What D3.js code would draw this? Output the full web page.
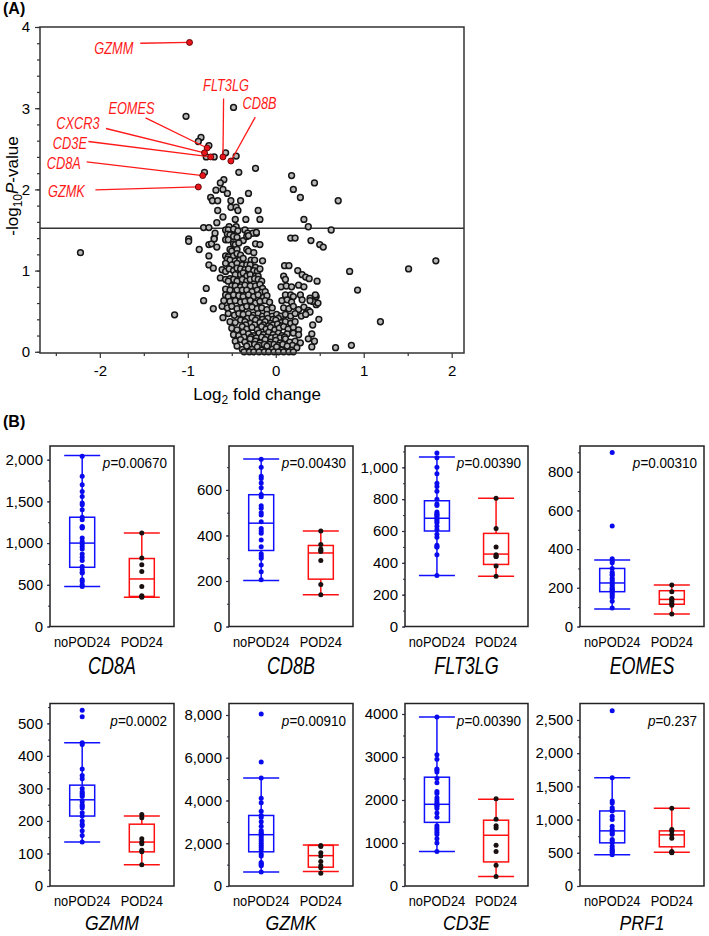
<!DOCTYPE html>
<html><head><meta charset="utf-8">
<script src="https://cdn.jsdelivr.net/npm/d3@7"></script>
<style>
body{margin:0;background:#fff}
svg{display:block}
text{font-family:"Liberation Sans",Arial,sans-serif}
</style></head>
<body><svg id="chart" width="709" height="936"></svg>
<script>
// ---------------- Volcano data (Log2 fold change, -log10 P) ----------------
const volcanoPoints = [
 [-1.02,2.90],[-0.48,3.01],[-0.85,2.64],[-0.88,2.59],[-0.76,2.54],[-0.79,2.40],[-0.70,2.40],[-0.57,2.45],[-0.45,2.41],
 [-0.81,2.21],[-0.42,2.21],[-0.23,2.26],[0.18,2.17],[0.44,2.08],[0.20,2.00],[0.28,1.90],[0.71,1.86],[-0.59,2.12],
 [-0.63,2.08],[-0.68,1.99],[-0.60,2.00],[-0.55,1.95],[-0.31,1.95],[-0.74,1.90],[-0.72,1.86],[-0.66,1.86],[-0.51,1.86],
 [-0.40,1.86],[-0.66,1.74],[-0.51,1.78],[-0.45,1.78],[-0.43,1.74],[-0.20,1.74],[-0.60,1.66],[-0.67,1.59],[-0.46,1.63],
 [-0.34,1.63],[-0.18,1.63],[0.32,1.63],[0.37,1.54],[0.63,1.50],[-0.82,1.53],[-0.76,1.53],[-0.53,1.54],[-0.45,1.54],
 [-0.55,1.48],[-0.50,1.49],
 [-2.22,1.22],[-0.99,1.39],[-0.99,1.36],[-0.70,1.40],[-0.22,1.46],[-0.87,1.26],[-0.76,1.32],[-0.76,1.18],[-0.76,1.07],
 [-0.71,1.03],[-0.79,0.78],[-0.82,0.63],[-0.71,0.53],[-0.60,0.42],[-1.15,0.455],[1.82,1.12],[1.51,1.02],[0.84,0.99],
 [0.93,0.76],[1.19,0.37],[0.86,0.08],[0.68,0.05],[0.44,0.13],[0.41,0.06],[0.49,0.40],[0.42,0.33],[0.41,0.22],[0.50,1.32],
 [0.54,1.29],[0.40,1.37],[0.17,1.40],[0.22,1.40],[0.10,1.06],[0.15,1.06],[0.25,1.00],[0.30,0.95],[0.34,0.92],[0.38,0.90],
 [0.47,0.87],[0.46,0.68],[0.46,0.58],[0.42,0.62],
 [-0.57,1.50],[-0.54,1.50],[-0.48,1.51],[-0.43,1.49],[-0.35,1.50],[-0.32,1.46],[-0.26,1.46],[-0.22,1.47],
 [-0.69,1.46],[-0.55,1.45],[-0.52,1.44],[-0.48,1.42],
 [-0.57,1.38],[-0.54,1.38],[-0.44,1.41],[-0.37,1.37],[-0.33,1.42],[-0.31,1.43],[-0.23,1.33],[-0.18,1.32],
 [-0.73,1.33],[-0.67,1.29],[-0.70,1.39],[-0.48,1.33],[-0.46,1.32],[-0.42,1.34],
 [-0.52,1.26],[-0.50,1.24],[-0.44,1.26],[-0.33,1.26],[-0.31,1.24],[-0.25,1.22],
 [-0.57,1.18],[-0.54,1.17],[-0.48,1.18],[-0.44,1.21],[-0.40,1.19],
 [-0.55,1.14],[-0.52,1.13],[-0.46,1.12],[-0.41,1.13],[-0.37,1.15],[-0.28,1.13],[-0.24,1.13],[-0.15,1.12],
 [-0.57,1.09],[-0.50,1.07],[-0.44,1.09],[-0.38,1.07],[-0.33,1.07],[-0.29,1.07],[-0.23,1.04],
 [-0.61,1.01],[-0.57,0.99],[-0.53,1.02],[-0.48,1.00],[-0.44,1.03],[-0.40,1.02],[-0.35,1.01],[-0.31,1.02],[-0.25,1.00],[-0.21,0.99],[-0.18,1.02],
 [-0.46,0.95],[-0.40,0.95],[-0.37,0.97],[-0.33,0.93],[-0.29,0.95],[-0.23,0.93],[-0.20,0.93],[0.09,0.93],
 [-0.63,0.91],[-0.57,0.89],[-0.52,0.90],[-0.48,0.89],
 [-0.54,0.87],[-0.44,0.87],[-0.38,0.89],[-0.33,0.87],[-0.29,0.89],[-0.24,0.90],[-0.20,0.89],[-0.16,0.87],
 [-0.50,0.81],[-0.46,0.81],[-0.40,0.80],[-0.35,0.82],[-0.29,0.81],[-0.23,0.81],[-0.18,0.83],[-0.15,0.78],
 [0.11,0.89],[0.06,0.80],[0.12,0.81],[0.18,0.80],[0.26,0.82],[0.32,0.80],
 [-0.57,0.77],[-0.52,0.76],[-0.44,0.76],[-0.38,0.76],[-0.33,0.76],[-0.27,0.74],[-0.21,0.76],[-0.16,0.73],[-0.12,0.74],
 [-0.57,0.70],[-0.54,0.68],[-0.48,0.70],[-0.42,0.69],[-0.37,0.68],[-0.31,0.70],[-0.25,0.68],[-0.20,0.70],[-0.14,0.67],[-0.10,0.69],
 [0.11,0.70],[0.17,0.70],[0.20,0.68],[0.28,0.70],[0.39,0.66],[0.45,0.70],
 [-0.59,0.63],[-0.52,0.62],[-0.46,0.63],[-0.40,0.61],[-0.35,0.62],[-0.29,0.63],[-0.23,0.60],[-0.18,0.62],[-0.12,0.63],[-0.07,0.61],
 [0.07,0.63],[0.13,0.64],[0.18,0.61],[0.30,0.64],[0.39,0.63],[0.48,0.60],
 [-0.61,0.56],[-0.55,0.54],[-0.50,0.56],[-0.44,0.53],[-0.38,0.54],[-0.33,0.56],[-0.27,0.55],[-0.21,0.53],[-0.16,0.54],[-0.10,0.52],[-0.04,0.54],
 [0.09,0.54],[0.15,0.53],[0.20,0.56],[0.26,0.52],[0.32,0.55],[0.37,0.51],[0.35,0.48],[0.39,0.49],
 [-0.54,0.47],[-0.47,0.45],[-0.42,0.47],[-0.37,0.46],[-0.31,0.47],[-0.25,0.45],[-0.20,0.47],[-0.15,0.44],[-0.10,0.46],[-0.04,0.44],
 [0.01,0.46],[0.06,0.44],[0.11,0.46],[0.17,0.44],[0.22,0.47],[0.29,0.44],[0.34,0.46],
 [-0.32,0.41],[-0.27,0.42],[-0.21,0.41],[-0.15,0.40],[-0.09,0.41],[-0.03,0.40],[0.03,0.41],
 [-0.52,0.37],[-0.46,0.36],[-0.40,0.39],[-0.35,0.37],[-0.29,0.35],[-0.23,0.39],[-0.18,0.36],[-0.12,0.37],[-0.06,0.35],[0.00,0.39],
 [0.06,0.36],[0.11,0.37],[0.17,0.35],[0.22,0.37],
 [-0.34,0.33],[-0.24,0.33],[-0.14,0.33],[-0.08,0.32],[-0.03,0.33],[0.02,0.34],[0.07,0.32],
 [-0.50,0.29],[-0.44,0.27],[-0.38,0.31],[-0.33,0.28],[-0.27,0.30],[-0.21,0.27],[-0.16,0.31],[-0.11,0.28],[-0.06,0.30],[-0.01,0.27],
 [0.04,0.29],[0.09,0.31],[0.14,0.28],[0.20,0.30],[0.26,0.27],
 [-0.48,0.21],[-0.42,0.20],[-0.37,0.24],[-0.31,0.22],[-0.25,0.20],[-0.19,0.23],[-0.14,0.21],[-0.08,0.24],[-0.03,0.21],[0.03,0.23],
 [0.07,0.20],[0.13,0.22],[0.20,0.23],[0.26,0.21],
 [-0.36,0.18],[-0.28,0.18],[-0.22,0.17],[-0.16,0.18],[-0.10,0.18],[-0.05,0.17],[0.00,0.18],[0.05,0.17],[0.10,0.18],
 [-0.46,0.13],[-0.40,0.15],[-0.35,0.12],[-0.29,0.16],[-0.23,0.13],[-0.18,0.11],[-0.12,0.15],[-0.06,0.12],[0.00,0.14],[0.05,0.11],
 [0.11,0.16],[0.16,0.12],[0.22,0.13],[0.28,0.11],
 [-0.30,0.09],[-0.24,0.09],[-0.19,0.08],[-0.13,0.09],[-0.07,0.09],[-0.02,0.09],[0.03,0.08],[0.08,0.09],[0.19,0.08],
 [-0.44,0.07],[-0.38,0.03],[-0.33,0.07],[-0.27,0.03],[-0.21,0.06],[-0.16,0.02],[-0.10,0.07],[-0.04,0.03],[0.01,0.06],[0.07,0.02],
 [0.13,0.07],[0.18,0.02],[0.24,0.05],
 [-0.36,0.00],[-0.30,0.00],[-0.25,0.00],[-0.19,0.00],[-0.13,0.00],[-0.08,0.00],[-0.02,0.00],[0.03,0.00],[0.09,0.00],[0.15,0.00],[0.20,0.00],
 [0.37,0.16]
];
const highlightGenes = ["GZMM","FLT3LG","CD8B","EOMES","CXCR3","CD3E","CD8A","GZMK"];
const highlightFC    = [-0.98,-0.60,-0.51,-0.78,-0.81,-0.74,-0.83,-0.88];
const highlightP     = [3.81, 2.40, 2.35, 2.51, 2.45, 2.40, 2.17, 2.03];
// label text centre and leader-line start, in data units
const labelFC   = [-1.84,-0.565,-0.185,-1.64,-2.25,-2.34,-2.41,-2.38];
const labelP    = [3.74, 3.28, 3.06, 3.00, 2.81, 2.57, 2.32, 1.98];
const leaderFC  = [-1.54,-0.593,-0.233,-1.48,-1.93,-2.13,-2.15,-2.05];
const leaderP   = [3.80, 3.12, 2.89, 2.88, 2.75, 2.59, 2.34, 1.995];
const pThreshold = 1.52;
const volcanoXTicks = [-2,-1,0,1,2];
const volcanoXMinor = [-2.5,-1.5,-0.5,0.5,1.5];
const volcanoYTicks = [0,1,2,3,4];

// ---------------- Box plot data ----------------
const groups = ["noPOD24","POD24"];
const genes  = ["CD8A","CD8B","FLT3LG","EOMES","GZMM","GZMK","CD3E","PRF1"];
const pLabels = ["0.00670","0.00430","0.00390","0.00310","0.0002","0.00910","0.00390","0.237"];
const yMax = [2164, 793, 1134, 933, 561, 8538, 4244, 2748];
const yTicks = [[0,500,1000,1500,2000],[0,200,400,600],[0,200,400,600,800,1000],[0,200,400,600,800],
                [0,100,200,300,400,500],[0,2000,4000,6000,8000],[0,1000,2000,3000,4000],[0,500,1000,1500,2000,2500]];
const minorStep = [250,100,100,100,50,1000,500,250];
const useComma = [true,true,true,true,true,true,false,true];
// [lower whisker, Q1, median, Q3, upper whisker]
const statsNo = [[480,710,1000,1310,2050],[202,334,454,579,736],[320,600,680,790,1065],[90,180,225,300,344],
                 [135,215,265,310,440],[650,1600,2400,3300,5050],[800,1480,1900,2530,3930],[470,650,830,1130,1630]];
const statsPod = [[350,360,570,815,1120],[139,208,323,356,420],[315,390,455,585,805],[65,115,140,185,215],
                  [65,105,135,190,215],[680,880,1420,1900,1920],[220,560,1180,1530,2020],[510,590,770,830,1170]];
const valuesNo = [
 [2040,1800,1700,1620,1560,1480,1460,1400,1310,1280,1200,1190,1180,1060,1020,990,960,930,870,830,790,720,680,650,640,560,540,500,480],
 [735,700,660,650,630,610,580,570,530,520,500,490,460,430,420,410,380,350,320,310,300,270,240,205],
 [1090,1060,1000,960,900,880,850,800,770,760,720,710,700,700,690,680,670,660,650,630,610,580,560,510,500,500,450,320],
 [900,520,350,340,330,300,280,270,265,250,240,230,220,210,200,195,190,185,180,170,160,150,130,95],
 [540,520,440,435,360,340,330,300,290,285,280,275,260,250,245,240,225,215,200,190,185,170,155,135],
 [8050,5800,5050,4100,3900,3500,3300,3200,3000,2800,2600,2500,2450,2400,2300,2200,2100,2000,1900,1800,1700,1500,1400,1100,1050,1000,950,650],
 [3930,3050,2950,2720,2700,2650,2500,2400,2200,2150,2050,2000,1950,1900,1880,1850,1800,1700,1600,1400,1350,1300,1250,1200,1100,1000,800],
 [2640,1630,1280,1250,1180,1150,1130,1050,1000,900,850,830,800,780,700,680,650,600,560,540,520,500,470]
];
const valuesPod = [
 [1120,820,740,660,480,370,360,350],
 [420,360,340,335,330,290,185,140],
 [805,615,500,450,440,440,380,315],
 [215,180,145,140,130,120,110,65],
 [220,210,145,135,130,110,105,65],
 [1900,1850,1550,1400,1150,950,850,600],
 [2030,1550,1400,1350,950,800,480,220],
 [1170,850,830,770,720,520,510,500]
];

// ---------------- drawing ----------------
const svg = d3.select("#chart");
const FONT = '"Liberation Sans",Arial,sans-serif';

function ctext(parent, x, y, str, o) {
  o = Object.assign({size:14, sx:1, anchor:"middle", italic:false, weight:"normal", fill:"#000"}, o||{});
  return parent.append("text")
    .attr("transform", `translate(${x},${y}) scale(${o.sx},1)`)
    .attr("text-anchor", o.anchor)
    .attr("dominant-baseline", "central")
    .style("font-size", o.size + "px")
    .style("font-style", o.italic ? "italic" : "normal")
    .style("font-weight", o.weight)
    .attr("fill", o.fill)
    .text(str);
}

// ===== Panel A: volcano =====
const VL = 40, VR = 464, VT = 27, VB = 353;
const vx = d3.scaleLinear().domain([-2.68, 2.14]).range([VL, VR]);
const vy = d3.scaleLinear().domain([-0.015, 4.0]).range([VB, VT]);
const gA = svg.append("g");

gA.append("text").attr("x", 3).attr("y", 14).style("font-size","16px").style("font-weight","bold").text("(A)");

const styleAxis = s => { s.select(".domain").remove(); s.selectAll(".tick line").attr("stroke","#333").attr("stroke-width",1.2); };
const plain = d => String(d);
gA.append("g").attr("transform",`translate(${VL},0)`)
  .call(d3.axisLeft(vy).tickValues(d3.range(0, 4.01, 0.2)).tickSize(3).tickFormat(""))
  .call(styleAxis);
gA.append("g").attr("transform",`translate(${VL},0)`)
  .call(d3.axisLeft(vy).tickValues(volcanoYTicks).tickSize(5).tickPadding(5).tickFormat(plain))
  .call(styleAxis)
  .call(s => s.selectAll("text").style("font-size","15px").style("font-family",FONT).attr("fill","#000"));
gA.append("g").attr("transform",`translate(0,${VB})`)
  .call(d3.axisBottom(vx).tickValues(volcanoXMinor).tickSize(3).tickFormat(""))
  .call(styleAxis);
gA.append("g").attr("transform",`translate(0,${VB})`)
  .call(d3.axisBottom(vx).tickValues(volcanoXTicks).tickSize(5).tickPadding(7).tickFormat(plain))
  .call(styleAxis)
  .call(s => s.selectAll("text").style("font-size","15px").style("font-family",FONT).attr("fill","#000"));

gA.append("line").attr("x1",VL).attr("x2",VR).attr("y1",vy(pThreshold)).attr("y2",vy(pThreshold))
  .attr("stroke","#333").attr("stroke-width",1.5);

gA.append("g").selectAll("circle").data(volcanoPoints).join("circle")
  .attr("cx", d => vx(d[0])).attr("cy", d => vy(d[1])).attr("r", 2.9)
  .attr("fill","#b8b8b8").attr("stroke","#151515").attr("stroke-width",1.5);

highlightGenes.forEach((g, i) => {
  gA.append("line").attr("x1", vx(leaderFC[i])).attr("y1", vy(leaderP[i]))
    .attr("x2", vx(highlightFC[i])).attr("y2", vy(highlightP[i]))
    .attr("stroke","#ff1a1a").attr("stroke-width",1.3);
  ctext(gA, vx(labelFC[i]), vy(labelP[i]), g, {size:16, sx:0.8, italic:true, fill:"#ff1a1a"});
});
gA.append("g").selectAll("circle").data(highlightGenes).join("circle")
  .attr("cx", (d,i) => vx(highlightFC[i])).attr("cy", (d,i) => vy(highlightP[i])).attr("r", 3)
  .attr("fill","#e8141c").attr("stroke","#5a0000").attr("stroke-width",0.9);

gA.append("rect").attr("x",VL).attr("y",VT).attr("width",VR-VL).attr("height",VB-VT)
  .attr("fill","none").attr("stroke","#333").attr("stroke-width",1.5);

const yl = gA.append("text").attr("transform","translate(18,186) rotate(-90)").attr("text-anchor","middle")
  .style("font-size","17px");
yl.append("tspan").text("-log");
yl.append("tspan").attr("dy",4).style("font-size","12px").text("10");
yl.append("tspan").attr("dy",-4).style("font-style","italic").text("P");
yl.append("tspan").text("-value");

const xl = gA.append("text").attr("x",257).attr("y",400).attr("text-anchor","middle").style("font-size","17px");
xl.append("tspan").text("Log");
xl.append("tspan").attr("dy",4).style("font-size","12px").text("2");
xl.append("tspan").attr("dy",-4).text(" fold change");

// ===== Panel B: box plots =====
svg.append("text").attr("x", 3).attr("y", 427).style("font-size","16px").style("font-weight","bold").text("(B)");

const colLeft  = [50, 229, 405, 580];
const colRight = [174, 353, 528, 704];
const rowTop = [446, 703.5], rowBottom = [626.5, 886];
const boxW = 25, capW = 36;

genes.forEach((gene, i) => {
  const r = i < 4 ? 0 : 1, c = i % 4;
  const L = colLeft[c], R = colRight[c], T = rowTop[r], B = rowBottom[r];
  const g = svg.append("g");
  const x = d3.scalePoint().domain(groups).range([L, R]).padding(0.54);
  const y = d3.scaleLinear().domain([0, yMax[i]]).range([B, T]);
  const fmt = useComma[i] ? d3.format(",") : d3.format("d");

  g.append("g").attr("transform",`translate(${L},0)`)
    .call(d3.axisLeft(y).tickValues(d3.range(0, yMax[i], minorStep[i])).tickSize(2).tickFormat(""))
    .call(s => { s.select(".domain").remove(); s.selectAll("line").attr("stroke","#335").attr("stroke-width",1); });
  g.append("g").attr("transform",`translate(${L},0)`)
    .call(d3.axisLeft(y).tickValues(yTicks[i]).tickSize(3).tickPadding(4).tickFormat(fmt))
    .call(s => { s.select(".domain").remove(); s.selectAll("line").attr("stroke","#335").attr("stroke-width",1.2);
                 s.selectAll("text").style("font-size","15px").style("font-family",FONT).attr("fill","#000"); });

  const drawBox = (grp, st, vals, col, ptCol) => {
    const cx = x(grp);
    const bg = g.append("g").attr("stroke", col).attr("stroke-width", 1.5).attr("fill","none");
    bg.append("line").attr("x1",cx).attr("x2",cx).attr("y1",y(st[0])).attr("y2",y(st[4]));
    bg.append("line").attr("x1",cx-capW/2).attr("x2",cx+capW/2).attr("y1",y(st[0])).attr("y2",y(st[0]));
    bg.append("line").attr("x1",cx-capW/2).attr("x2",cx+capW/2).attr("y1",y(st[4])).attr("y2",y(st[4]));
    bg.append("rect").attr("x",cx-boxW/2).attr("width",boxW).attr("y",y(st[3])).attr("height",y(st[1])-y(st[3]))
      .attr("fill","#fff");
    bg.append("line").attr("x1",cx-boxW/2).attr("x2",cx+boxW/2).attr("y1",y(st[2])).attr("y2",y(st[2]));
    g.append("g").selectAll("circle").data(vals).join("circle")
      .attr("cx", cx).attr("cy", d => y(d)).attr("r", 2.5).attr("fill", ptCol);
  };
  drawBox("noPOD24", statsNo[i], valuesNo[i], "#1010ff", "#0a0aee");
  drawBox("POD24", statsPod[i], valuesPod[i], "#ff1010", "#1a1010");

  g.append("rect").attr("x",L).attr("y",T).attr("width",R-L).attr("height",B-T)
    .attr("fill","none").attr("stroke","#222").attr("stroke-width",1.5);

  const pt = g.append("text").attr("transform",`translate(${R-7},${T+17}) scale(0.9,1)`)
    .attr("text-anchor","end").attr("dominant-baseline","central").style("font-size","15px");
  pt.append("tspan").style("font-style","italic").text("p");
  pt.append("tspan").text("=" + pLabels[i]);

  groups.forEach(gr => ctext(g, x(gr), B + 15.5, gr, {size:14, sx:0.92}));
  ctext(g, (L + R) / 2, B + (r === 0 ? 39 : 36), gene, {size: r === 0 ? 23 : 21, sx: r === 0 ? 0.78 : 0.84, italic:true});
});
</script>
</body></html>
